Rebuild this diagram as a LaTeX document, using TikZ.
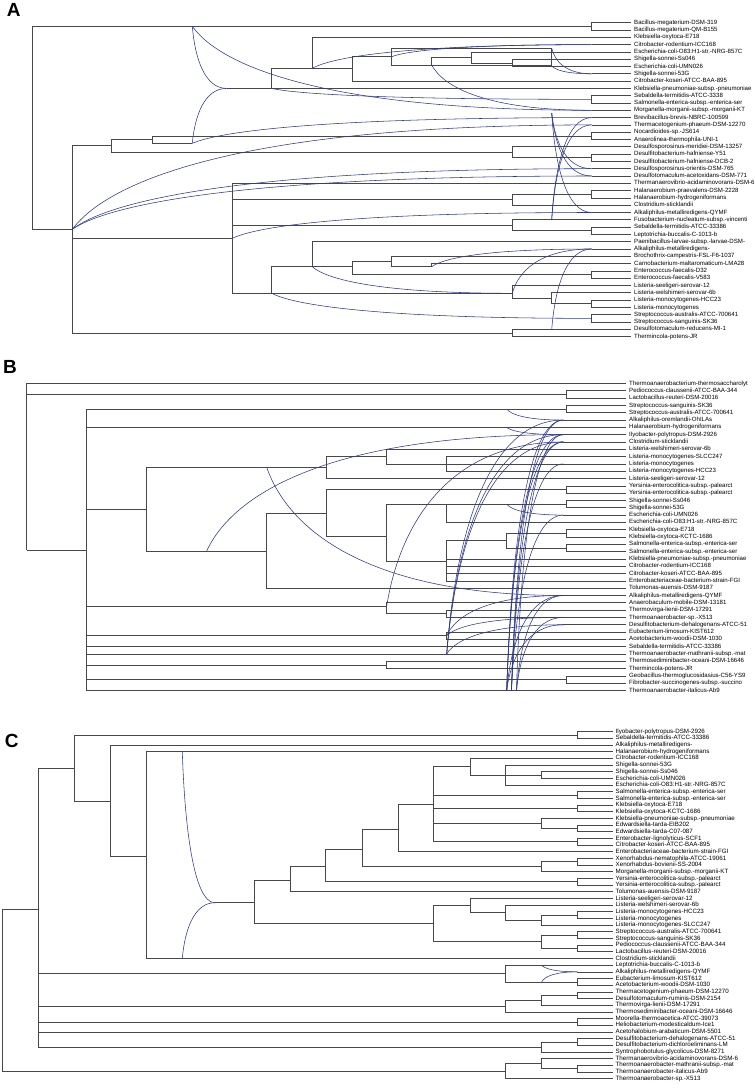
\documentclass[tikz,border=0pt]{standalone}
\usepackage{fontspec}
\setmainfont{Liberation Sans}
\usetikzlibrary{calc}

\definecolor{netblue}{RGB}{44,56,140}
\definecolor{treeline}{RGB}{72,72,72}

% leaf rows of the three panels (y in px, downwards)
\pgfmathdeclarefunction{rowA}{1}{\pgfmathparse{22.7+7.3*(#1-1)}}
\pgfmathdeclarefunction{rowB}{1}{\pgfmathparse{383.5+7.31*(#1-1)}}
\pgfmathdeclarefunction{rowC}{1}{\pgfmathparse{731.7+6.67*(#1-1)}}

% reticulate edge: leaves steeply, arrives flat
\newcommand\hgt[3][.35]{%
  \draw[hgt] let \p1=(#2), \p2=(#3) in
    (\p1) .. controls ({\x1+0.075*(\x2-\x1)},{0.5*(\y1+\y2)}) and ({\x1+#1*(\x2-\x1)},\y2) .. (\p2);}

\begin{document}
\begin{tikzpicture}[
        x=1pt, y=-1pt,
        tree/.style={draw=treeline, line width=0.65pt},
        hgt/.style={draw=netblue, line width=0.55pt},
        leafA/.style={anchor=west, inner xsep=3pt, inner ysep=0pt, text height=4.4pt, text depth=1.2pt, font=\fontsize{6.1}{6.1}\selectfont},
        leafC/.style={leafA, font=\fontsize{6.2}{6.2}\selectfont},
        panel/.style={inner sep=0pt, font=\bfseries\fontsize{19}{19}\selectfont}
    ]
    \fill[white] (0,0) rectangle (755,1088);
    \useasboundingbox (0,0) rectangle (755,1088);

    \node[panel] (labA) at (13.7,10.3) {A};
    \node[panel] (labB) at (10,366.5) {B};
    \node[panel] (labC) at (11.7,740.8) {C};

    % ---------------- panel A ----------------
    \foreach \t [count=\i] in {Bacillus-megaterium-DSM-319,Bacillus-megaterium-QM-B155,Klebsiella-oxytoca-E718,Citrobacter-rodentium-ICC168,Escherichia-coli-O83:H1-str.-NRG-857C,Shigella-sonnei-Ss046,Escherichia-coli-UMN026,Shigella-sonnei-53G,Citrobacter-koseri-ATCC-BAA-895,Klebsiella-pneumoniae-subsp.-pneumoniae,Sebaldella-termitidis-ATCC-3338,Salmonella-enterica-subsp.-enterica-ser,Morganella-morganii-subsp.-morganii-KT,Brevibacillus-brevis-NBRC-100599,Thermacetogenium-phaeum-DSM-12270,Nocardioides-sp.-JS614,Anaerolinea-thermophila-UNI-1,Desulfosporosinus-meridiei-DSM-13257,Desulfitobacterium-hafniense-Y51,Desulfitobacterium-hafniense-DCB-2,Desulfosporosinus-orientis-DSM-765,Desulfotomaculum-acetoxidans-DSM-771,Thermanaerovibrio-acidaminovorans-DSM-6,Halanaerobium-praevalens-DSM-2228,Halanaerobium-hydrogeniformans,Clostridium-sticklandii,Alkaliphilus-metalliredigens-QYMF,Fusobacterium-nucleatum-subsp.-vincenti,Sebaldella-termitidis-ATCC-33386,Leptotrichia-buccalis-C-1013-b,Paenibacillus-larvae-subsp.-larvae-DSM-,Alkaliphilus-metalliredigens-,Brochothrix-campestris-FSL-F6-1037,Carnobacterium-maltaromaticum-LMA28,Enterococcus-faecalis-D32,Enterococcus-faecalis-V583,Listeria-seeligeri-serovar-12,Listeria-welshimeri-serovar-6b,Listeria-monocytogenes-HCC23,Listeria-monocytogenes,Streptococcus-australis-ATCC-700641,Streptococcus-sanguinis-SK36,Desulfotomaculum-reducens-MI-1,Thermincola-potens-JR}
        \node[leafA] (tA\i) at (631,{rowA(\i)}) {\t};

    \coordinate (nAR) at (32.3,229.3);
    \coordinate (pA1) at (591.7,{rowA(1.5)});
    \coordinate (nATop) at (192.3,{rowA(1.5)});
    \coordinate (nA72) at (72.3,229.3);
    \coordinate (nA112) at (111.7,145.7);
    \coordinate (nA152) at (152.3,139.3);
    \coordinate (pA16) at (591.7,{rowA(16.5)});
    \coordinate (nA192) at (192.3,143.3);
    \coordinate (nA512y) at (512.3,152.3);
    \coordinate (pA19) at (591.7,{rowA(19.5)});
    \coordinate (nA512z) at (512.3,{rowA(43.5)});
    \coordinate (nAEnt) at (226.7,{rowA(10)});
    \coordinate (nA271) at (271.7,{rowA(10)});
    \coordinate (nA312) at (312.3,68.3);
    \coordinate (nA352) at (352.3,68.3);
    \coordinate (nA392) at (391.7,56.7);
    \coordinate (nA552) at (551.7,48.3);
    \coordinate (nA432) at (431.7,65);
    \coordinate (nA472) at (471.7,57.4);
    \coordinate (pA6) at (512.3,{rowA(6.5)});
    \coordinate (nA552b) at (551.7,65.7);
    \coordinate (pA11) at (591.7,{rowA(11.5)});
    \coordinate (nA232) at (232.3,238.3);
    \coordinate (nA512m) at (512.3,199.7);
    \coordinate (pA24) at (591.7,{rowA(24.5)});
    \coordinate (nA512n) at (512.3,225.3);
    \coordinate (pA29) at (591.7,{rowA(29.5)});
    \coordinate (nA271b) at (271.7,293.3);
    \coordinate (nA312b) at (312.3,266.7);
    \coordinate (nA352b) at (352.3,266.7);
    \coordinate (nA392b) at (391.7,261.7);
    \coordinate (nA432b) at (431.7,266.7);
    \coordinate (pA35) at (591.7,{rowA(35.5)});
    \coordinate (nA512L) at (512.3,293.3);
    \coordinate (nA552L) at (551.7,298.3);
    \coordinate (pA39) at (591.7,{rowA(39.5)});
    \coordinate (pA41) at (591.7,{rowA(41.5)});
    \coordinate (nAV1) at (551.7,113);
    \coordinate (nAV2) at (551.7,220);
    \coordinate (nAV3) at (551.7,330);
    \foreach \i in {4,8,13,14,15,21,22,27,32}
        \coordinate (cA\i) at (591.7,{rowA(\i)});

    \foreach \c in {pA1,nA72} \draw[tree] (nAR) |- (\c);
    \foreach \c in {nA112,nA232,nA512z} \draw[tree] (nA72) |- (\c);
    \foreach \c in {nA152,nA512y} \draw[tree] (nA112) |- (\c);
    \foreach \c in {pA16,nA192} \draw[tree] (nA152) |- (\c);
    \foreach \c in {tA18.west,pA19} \draw[tree] (nA512y) |- (\c);
    \draw[tree] (nAEnt) -- (nA271);
    \foreach \c in {nA312,tA10.west} \draw[tree] (nA271) |- (\c);
    \foreach \c in {tA3.west,nA352} \draw[tree] (nA312) |- (\c);
    \foreach \c in {nA392,tA9.west} \draw[tree] (nA352) |- (\c);
    \foreach \c in {nA552,nA432} \draw[tree] (nA392) |- (\c);
    \foreach \c in {nA472,nA552b} \draw[tree] (nA432) |- (\c);
    \draw[tree] (nA552) -- (nA552b);
    \foreach \c in {tA5.west,pA6} \draw[tree] (nA472) |- (\c);
    \foreach \c in {tA23.west,nA512m,nA512n,nA271b} \draw[tree] (nA232) |- (\c);
    \foreach \c in {pA24,tA26.west} \draw[tree] (nA512m) |- (\c);
    \foreach \c in {tA28.west,pA29} \draw[tree] (nA512n) |- (\c);
    \foreach \c in {nA312b,nA512L} \draw[tree] (nA271b) |- (\c);
    \foreach \c in {tA31.west,nA352b} \draw[tree] (nA312b) |- (\c);
    \foreach \c in {nA392b,pA35} \draw[tree] (nA352b) |- (\c);
    \foreach \c in {tA33.west,nA432b} \draw[tree] (nA392b) |- (\c);
    \draw[tree] (nA432b) |- (tA34.west);
    \foreach \c in {tA37.west,nA552L} \draw[tree] (nA512L) |- (\c);
    \foreach \c in {tA38.west,pA39} \draw[tree] (nA552L) |- (\c);
    \foreach \p/\i/\j in {pA1/1/2,pA16/16/17,pA19/19/20,pA6/6/7,pA11/11/12,pA24/24/25,pA29/29/30,pA35/35/36,pA39/39/40,pA41/41/42,nA512z/43/44}
        \draw[tree] (\p) |- (tA\i.west) (\p) |- (tA\j.west);
    \foreach \i in {4,8,13,14,15,21,22,27,32} \draw[tree] (cA\i) -- (tA\i.west);

    \hgt{nATop}{nAEnt}
    \hgt{nATop}{cA13}
    \hgt{nA192}{nAEnt}
    \hgt{nA192}{cA14}
    \hgt{nA72}{cA15}
    \hgt{nA72}{cA21}
    \hgt{nA72}{cA22}
    \hgt{nA232}{cA27}
    \hgt{nA312}{cA4}
    \hgt{nA392}{cA4}
    \hgt{nA271}{pA11}
    \hgt{nA552}{cA8}
    \hgt{nA552b}{cA8}
    \hgt{nA432}{cA13}
    \hgt{nAV1}{cA21}
    \hgt{nAV1}{cA22}
    \hgt{nAV1}{cA27}
    \hgt{nAV2}{cA14}
    \hgt{nAV2}{cA15}
    \hgt{nA312b}{nA512L}
    \hgt{nA271b}{pA41}
    \hgt{nA432b}{cA32}
    \hgt{nA512L}{cA32}
    \hgt{nAV3}{cA32}

    % ---------------- panel B ----------------
    \foreach \t [count=\i] in {Thermoanaerobacterium-thermosaccharolyt,Pediococcus-claussenii-ATCC-BAA-344,Lactobacillus-reuteri-DSM-20016,Streptococcus-sanguinis-SK36,Streptococcus-australis-ATCC-700641,Alkaliphilus-oremlandii-OhILAs,Halanaerobium-hydrogeniformans,Ilyobacter-polytropus-DSM-2926,Clostridium-sticklandii,Listeria-welshimeri-serovar-6b,Listeria-monocytogenes-SLCC247,Listeria-monocytogenes,Listeria-monocytogenes-HCC23,Listeria-seeligeri-serovar-12,Yersinia-enterocolitica-subsp.-palearct,Yersinia-enterocolitica-subsp.-palearct,Shigella-sonnei-Ss046,Shigella-sonnei-53G,Escherichia-coli-UMN026,Escherichia-coli-O83:H1-str.-NRG-857C,Klebsiella-oxytoca-E718,Klebsiella-oxytoca-KCTC-1686,Salmonella-enterica-subsp.-enterica-ser,Salmonella-enterica-subsp.-enterica-ser,Klebsiella-pneumoniae-subsp.-pneumoniae,Citrobacter-rodentium-ICC168,Citrobacter-koseri-ATCC-BAA-895,Enterobacteriaceae-bacterium-strain-FGI,Tolumonas-auensis-DSM-9187,Alkaliphilus-metalliredigens-QYMF,Anaerobaculum-mobile-DSM-13181,Thermovirga-lienii-DSM-17291,Thermoanaerobacter-sp.-X513,Desulfitobacterium-dehalogenans-ATCC-51,Eubacterium-limosum-KIST612,Acetobacterium-woodii-DSM-1030,Sebaldella-termitidis-ATCC-33386,Thermoanaerobacter-mathranii-subsp.-mat,Thermosediminibacter-oceani-DSM-16646,Thermincola-potens-JR,Geobacillus-thermoglucosidasius-C56-YS9,Fibrobacter-succinogenes-subsp.-succino,Thermoanaerobacter-italicus-Ab9}
        \node[leafA] (tB\i) at (626,{rowB(\i)}) {\t};

    \coordinate (nBR) at (26.7,550);
    \coordinate (pB2) at (566.7,{rowB(2.5)});
    \coordinate (nB87) at (86.7,550);
    \coordinate (pB4) at (566.7,{rowB(4.5)});
    \coordinate (nB147) at (146.7,509.3);
    \coordinate (nB327a) at (326.7,467.3);
    \coordinate (nBL1) at (386.7,{rowB(11)});
    \coordinate (nBL2) at (446.7,{rowB(12)});
    \coordinate (nB267) at (266.7,551);
    \coordinate (nB327b) at (326.7,513.3);
    \coordinate (pB15) at (566.7,{rowB(15.5)});
    \coordinate (nBE1) at (386.7,536.7);
    \coordinate (nBS) at (446.7,{rowB(17.5)});
    \coordinate (pB17) at (566.7,{rowB(17.5)});
    \coordinate (nBC) at (446.7,561.7);
    \coordinate (nBK) at (506.7,{rowB(22.5)});
    \coordinate (pB21) at (566.7,{rowB(21.5)});
    \coordinate (pB23) at (566.7,{rowB(23.5)});
    \coordinate (nB387a) at (386.7,606);
    \coordinate (nB447a) at (446.7,{rowB(32.5)});
    \coordinate (nB447b) at (446.7,{rowB(35.5)});
    \coordinate (nB387b) at (386.7,{rowB(39.5)});
    \coordinate (pB41) at (566.7,{rowB(41.5)});
    \coordinate (nBH1) at (206.7,551);
    \coordinate (nBH2) at (266.7,467.3);
    \coordinate (nBH3) at (506.7,{rowB(43)});
    \coordinate (nBH3b) at (511.5,{rowB(43)});
    \coordinate (nBH3c) at (516.5,{rowB(43)});
    \coordinate (nBH4) at (446.7,{rowB(38)});
    \coordinate (nBH5) at (506.7,{rowB(4.5)});
    \coordinate (nBH6) at (506.7,{rowB(7)});
    \coordinate (nBH7) at (506.7,{rowB(17.5)});
    \foreach \i in {6,8,9,12,19,30,33,34}
        \coordinate (cB\i) at (563.3,{rowB(\i)});

    \foreach \c in {tB1.west,pB2,nB87} \draw[tree] (nBR) |- (\c);
    \foreach \c in {pB4,tB7.west,nB147,nB387a,nB447b,tB37.west,tB38.west,nB387b,pB41,tB43.west} \draw[tree] (nB87) |- (\c);
    \foreach \c in {nB327a,nB267} \draw[tree] (nB147) |- (\c);
    \foreach \c in {nBL1,tB14.west} \draw[tree] (nB327a) |- (\c);
    \foreach \c in {tB10.west,nBL2} \draw[tree] (nBL1) |- (\c);
    \foreach \i in {11,12,13} \draw[tree] (nBL2) |- (tB\i.west);
    \foreach \c in {nB327b,tB29.west} \draw[tree] (nB267) |- (\c);
    \foreach \c in {pB15,nBE1} \draw[tree] (nB327b) |- (\c);
    \foreach \c in {nBS,nBC} \draw[tree] (nBE1) |- (\c);
    \foreach \c in {pB17,tB20.west} \draw[tree] (nBS) |- (\c);
    \foreach \c in {nBK,tB25.west,tB26.west,tB27.west,tB28.west} \draw[tree] (nBC) |- (\c);
    \foreach \c in {pB21,pB23} \draw[tree] (nBK) |- (\c);
    \foreach \c in {tB31.west,nB447a} \draw[tree] (nB387a) |- (\c);
    \foreach \p/\i/\j in {pB2/2/3,pB4/4/5,pB15/15/16,pB17/17/18,pB21/21/22,pB23/23/24,pB41/41/42,nB447a/32/33,nB447b/35/36,nB387b/39/40}
        \draw[tree] (\p) |- (tB\i.west) (\p) |- (tB\j.west);
    \foreach \i in {6,8,9,19,30,34} \draw[tree] (cB\i) -- (tB\i.west);

    \hgt{nBH1}{cB8}
    \hgt{nBH2}{cB30}
    \foreach \c in {cB6,cB8,cB9,cB30,cB34} {\hgt{nBH3}{\c}}
    \foreach \c in {cB6,cB9,cB12,cB19} {\hgt{nBH3b}{\c}}
    \foreach \c in {cB8,cB30,cB33} {\hgt{nBH3c}{\c}}
    \foreach \c in {cB6,cB8,cB9,cB34} {\hgt{nBH4}{\c}}
    \hgt{nB447b}{cB30}
    \hgt{nB447b}{cB33}
    \hgt{nB387a}{cB9}
    \hgt{nBH5}{cB6}
    \hgt{nBH6}{cB8}
    \hgt{nBH7}{cB19}

    % ---------------- panel C ----------------
    \foreach \t [count=\i] in {Ilyobacter-polytropus-DSM-2926,Sebaldella-termitidis-ATCC-33386,Alkaliphilus-metalliredigens-,Halanaerobium-hydrogeniformans,Citrobacter-rodentium-ICC168,Shigella-sonnei-53G,Shigella-sonnei-Ss046,Escherichia-coli-UMN026,Escherichia-coli-O83:H1-str.-NRG-857C,Salmonella-enterica-subsp.-enterica-ser,Salmonella-enterica-subsp.-enterica-ser,Klebsiella-oxytoca-E718,Klebsiella-oxytoca-KCTC-1686,Klebsiella-pneumoniae-subsp.-pneumoniae,Edwardsiella-tarda-EIB202,Edwardsiella-tarda-C07-087,Enterobacter-lignolyticus-SCF1,Citrobacter-koseri-ATCC-BAA-895,Enterobacteriaceae-bacterium-strain-FGI,Xenorhabdus-nematophila-ATCC-19061,Xenorhabdus-bovienii-SS-2004,Morganella-morganii-subsp.-morganii-KT,Yersinia-enterocolitica-subsp.-palearct,Yersinia-enterocolitica-subsp.-palearct,Tolumonas-auensis-DSM-9187,Listeria-seeligeri-serovar-12,Listeria-welshimeri-serovar-6b,Listeria-monocytogenes-HCC23,Listeria-monocytogenes,Listeria-monocytogenes-SLCC247,Streptococcus-australis-ATCC-700641,Streptococcus-sanguinis-SK36,Pediococcus-claussenii-ATCC-BAA-344,Lactobacillus-reuteri-DSM-20016,Clostridium-sticklandii,Leptotrichia-buccalis-C-1013-b,Alkaliphilus-metalliredigens-QYMF,Eubacterium-limosum-KIST612,Acetobacterium-woodii-DSM-1030,Thermacetogenium-phaeum-DSM-12270,Desulfotomaculum-ruminis-DSM-2154,Thermovirga-lienii-DSM-17291,Thermosediminibacter-oceani-DSM-16646,Moorella-thermoacetica-ATCC-39073,Heliobacterium-modesticaldum-Ice1,Acetohalobium-arabaticum-DSM-5501,Desulfitobacterium-dehalogenans-ATCC-51,Desulfitobacterium-dichloroeliminans-LM,Syntrophobotulus-glycolicus-DSM-8271,Thermanaerovibrio-acidaminovorans-DSM-6,Thermoanaerobacter-mathranii-subsp.-mat,Thermoanaerobacter-italicus-Ab9,Thermoanaerobacter-sp.-X513}
        \node[leafC] (tC\i) at (612.5,{rowC(\i)}) {\t};

    \coordinate (nCR) at (2.7,909);
    \coordinate (nC38) at (38.7,909);
    \coordinate (nC505) at (505,{rowC(51.875)});
    \coordinate (nC542) at (541.7,{rowC(50.75)});
    \coordinate (pC51) at (577.3,{rowC(51.5)});
    \coordinate (nC74) at (74.3,768.3);
    \coordinate (pC1) at (577.3,{rowC(1.5)});
    \coordinate (nC110) at (110.7,801.7);
    \coordinate (nC147) at (146.7,856.7);
    \coordinate (nCLep) at (505,{rowC(37.25)});
    \coordinate (pC38) at (577.3,{rowC(38.5)});
    \coordinate (nC505b) at (505,{rowC(42.125)});
    \coordinate (nC542b) at (541.7,{rowC(41.25)});
    \coordinate (pC40) at (577.3,{rowC(40.5)});
    \coordinate (pC44) at (577.3,{rowC(44.5)});
    \coordinate (nC542c) at (541.7,{rowC(48.25)});
    \coordinate (pC47) at (577.3,{rowC(47.5)});
    \coordinate (nCJ) at (215,902.7);
    \coordinate (nC254) at (254,902.7);
    \coordinate (nC290) at (290,880);
    \coordinate (nC325) at (325.7,866);
    \coordinate (nC362) at (362.3,849.3);
    \coordinate (nC398) at (398.3,829.3);
    \coordinate (nC433e) at (433.3,804.2);
    \coordinate (nC470e) at (470,766.7);
    \coordinate (nC505e) at (505,{rowC(7.5)});
    \coordinate (nC542e) at (541.7,{rowC(7.5)});
    \coordinate (pC10) at (577.3,{rowC(10.5)});
    \coordinate (pC12) at (577.3,{rowC(12.5)});
    \coordinate (nCKE) at (541.7,{rowC(14.75)});
    \coordinate (pC15) at (577.3,{rowC(15.5)});
    \coordinate (pC17) at (577.3,{rowC(17.5)});
    \coordinate (nC542x) at (541.7,{rowC(21.25)});
    \coordinate (pC20) at (577.3,{rowC(20.5)});
    \coordinate (pC23) at (577.3,{rowC(23.5)});
    \coordinate (nC433) at (433.3,923.7);
    \coordinate (nC470L) at (470,{rowC(27.0625)});
    \coordinate (nC505L) at (505,{rowC(28.125)});
    \coordinate (nC542L) at (541.7,{rowC(29.25)});
    \coordinate (pC28) at (577.3,{rowC(28.5)});
    \coordinate (nC542S) at (541.7,{rowC(32.5)});
    \coordinate (pC31) at (577.3,{rowC(31.5)});
    \coordinate (pC33) at (577.3,{rowC(33.5)});
    \coordinate (nCH1) at (182.3,{rowC(4)});
    \coordinate (nCH2) at (182.3,{rowC(35)});
    \coordinate (nCH3) at (541.7,{rowC(36)});
    \coordinate (nCH4) at (541.7,{rowC(38.5)});
    \coordinate (cC37) at (577.3,{rowC(37)});

    \foreach \c in {nC38,nC505} \draw[tree] (nCR) |- (\c);
    \foreach \c in {nC74,nCLep,nC505b,pC44,tC46.west,nC542c} \draw[tree] (nC38) |- (\c);
    \foreach \c in {nC542,tC53.west} \draw[tree] (nC505) |- (\c);
    \foreach \c in {tC50.west,pC51} \draw[tree] (nC542) |- (\c);
    \foreach \c in {pC1,nC110} \draw[tree] (nC74) |- (\c);
    \foreach \c in {tC3.west,nC147} \draw[tree] (nC110) |- (\c);
    \foreach \c in {tC4.west,tC35.west} \draw[tree] (nC147) |- (\c);
    \foreach \c in {tC36.west,pC38} \draw[tree] (nCLep) |- (\c);
    \foreach \c in {nC542b,tC43.west} \draw[tree] (nC505b) |- (\c);
    \foreach \c in {pC40,tC42.west} \draw[tree] (nC542b) |- (\c);
    \foreach \c in {pC47,tC49.west} \draw[tree] (nC542c) |- (\c);
    \draw[tree] (nCJ) -- (nC254);
    \foreach \c in {nC290,nC433} \draw[tree] (nC254) |- (\c);
    \foreach \c in {nC325,tC25.west} \draw[tree] (nC290) |- (\c);
    \foreach \c in {nC362,pC23} \draw[tree] (nC325) |- (\c);
    \foreach \c in {nC398,nC542x} \draw[tree] (nC362) |- (\c);
    \foreach \c in {nC433e,tC19.west} \draw[tree] (nC398) |- (\c);
    \foreach \c in {nC470e,pC10,pC12,nCKE,pC17} \draw[tree] (nC433e) |- (\c);
    \foreach \c in {tC5.west,nC505e} \draw[tree] (nC470e) |- (\c);
    \foreach \c in {tC6.west,nC542e,tC9.west} \draw[tree] (nC505e) |- (\c);
    \foreach \c in {tC14.west,pC15} \draw[tree] (nCKE) |- (\c);
    \foreach \c in {pC20,tC22.west} \draw[tree] (nC542x) |- (\c);
    \foreach \c in {nC470L,nC542S} \draw[tree] (nC433) |- (\c);
    \foreach \c in {tC26.west,nC505L} \draw[tree] (nC470L) |- (\c);
    \foreach \c in {tC27.west,nC542L} \draw[tree] (nC505L) |- (\c);
    \foreach \c in {pC28,tC30.west} \draw[tree] (nC542L) |- (\c);
    \foreach \c in {pC31,pC33} \draw[tree] (nC542S) |- (\c);
    \foreach \p/\i/\j in {pC1/1/2,nC542e/7/8,pC10/10/11,pC12/12/13,pC15/15/16,pC17/17/18,pC20/20/21,pC23/23/24,pC28/28/29,pC31/31/32,pC33/33/34,pC38/38/39,pC40/40/41,pC44/44/45,pC47/47/48,pC51/51/52}
        \draw[tree] (\p) |- (tC\i.west) (\p) |- (tC\j.west);
    \draw[tree] (cC37) -- (tC37.west);

    \hgt{nCH1}{nCJ}
    \hgt{nCH2}{nCJ}
    \hgt{nCH3}{cC37}
    \hgt{nCH4}{cC37}

\end{tikzpicture}
\end{document}
